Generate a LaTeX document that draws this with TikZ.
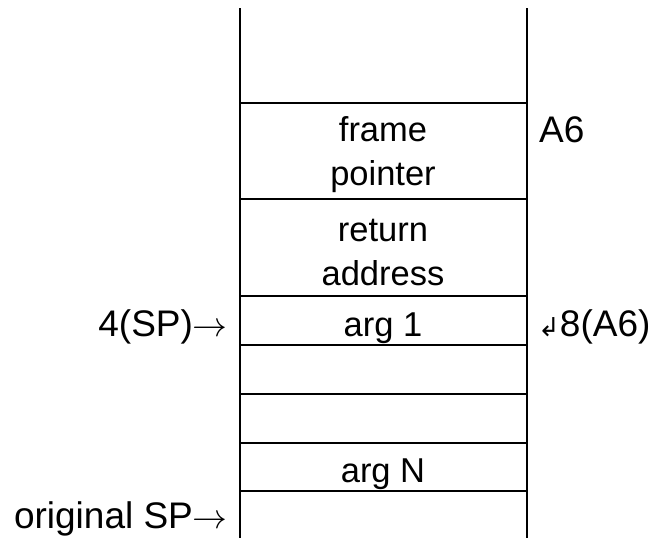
\documentclass[tikz,border=0pt]{standalone}
\usepackage{graphicx}
\usepackage{fontspec}
\setmainfont{Liberation Sans}
\newfontfamily\symfont{DejaVu Sans}
% long thin arrow, enlarged to suit the large labels
\newcommand{\ptrarrow}{\scalebox{1.4}{$\rightarrow$}}
\begin{document}
\begin{tikzpicture}[x=1pt,y=-1pt,
  lbl/.style={inner sep=0pt, font=\fontsize{37}{41}\selectfont},
  cell/.style={inner sep=0pt, align=center, anchor=base,
               font=\fontsize{34.5}{44}\selectfont},
  rule/.style={line width=1.3pt}]
\useasboundingbox (0,0) rectangle (656,538);

% stack walls
\coordinate (lt) at (240,8);
\coordinate (lb) at (240,538);
\coordinate (rt) at (527,8);
\coordinate (rb) at (527,538);
\draw[rule] (lt) -- (lb);
\draw[rule] (rt) -- (rb);

% slot boundaries
\foreach \y in {103,199,296,345,394,443,491}
  \draw[rule] (240,\y) -- (527,\y);

% slot contents (base anchor sits on the last line)
\node[cell] (fp)   at (383,185) {frame\\pointer};
\node[cell] (ret)  at (383,285) {return\\address};
\node[cell] (arg1) at (383,336) {arg 1};
\node[cell] (argN) at (383,482) {arg N};

% side labels
\node[lbl, anchor=base west] (a6) at (539,142) {A6};
\node[lbl, anchor=base east] (sp4) at (228,336) {4(SP)\ptrarrow};
\node[lbl, anchor=base west] (a68) at (538,336)
  {{\symfont\fontsize{26}{26}\selectfont ↲}8(A6)};
\node[lbl, anchor=base east] (osp) at (228,528) {original SP\ptrarrow};
\end{tikzpicture}
\end{document}
